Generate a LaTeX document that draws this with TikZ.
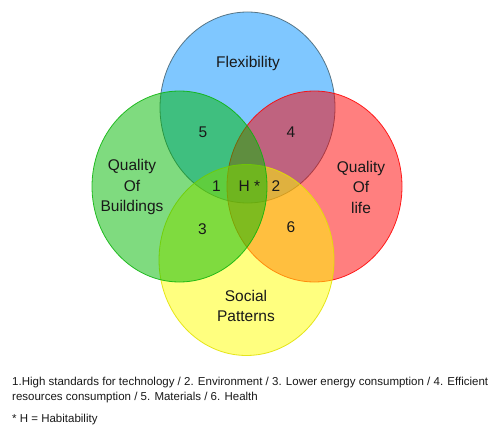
\documentclass[tikz,border=0pt]{standalone}
\usepackage{fontspec}
\setmainfont{Liberation Sans}
\begin{document}
\begin{tikzpicture}[x=1pt,y=-1pt,
  setbox/.style={fill opacity=0.5, draw opacity=0.85, line width=0.8pt},
  setlabel/.style={font=\fontsize{15.5}{20.5}\selectfont, align=center, text=black!90},
  note/.style={font=\fontsize{11.5}{15}\selectfont, anchor=base west, inner sep=0pt, text=black!90}]
\definecolor{flexblue}{RGB}{0,145,255}
\definecolor{flexedge}{RGB}{70,100,115}
\definecolor{lifered}{RGB}{255,0,0}
\definecolor{socyellow}{RGB}{255,255,0}
\definecolor{socedge}{RGB}{225,225,0}
\definecolor{bldgreen}{RGB}{0,185,0}
\definecolor{bldedge}{RGB}{10,180,10}
\useasboundingbox (0,0) rectangle (490,425);
\fill[white] (0,0) rectangle (490,425);
% four overlapping sets
\draw[setbox, fill=flexblue, draw=flexedge] (247.5,107.5) ellipse [x radius=87.5, y radius=95.5];
\draw[setbox, fill=lifered, draw=lifered] (314.5,186.5) ellipse [x radius=87.5, y radius=95.5];
\draw[setbox, fill=socyellow, draw=socedge] (246.5,260) ellipse [x radius=87.5, y radius=95.5];
\draw[setbox, fill=bldgreen, draw=bldedge] (179.5,186.5) ellipse [x radius=87.5, y radius=95.5];
% set names
\node[setlabel] (flex) at (248,63) {Flexibility};
\node[setlabel] (bld) at (132,187) {Quality\\Of\\Buildings};
\node[setlabel] (life) at (361,187) {Quality\\Of\\life};
\node[setlabel] (soc) at (246,306) {Social\\Patterns};
% region numbers
\node[setlabel] (r5) at (203,132) {5};
\node[setlabel] (r4) at (291,132) {4};
\node[setlabel] (r1) at (216.5,186.5) {1};
\node[setlabel] (rh) at (249.5,186.5) {H *};
\node[setlabel] (r2) at (276,186.5) {2};
\node[setlabel] (r3) at (202.5,229) {3};
\node[setlabel] (r6) at (291,227) {6};
% legend
\node[note] (n1) at (12,385.7) {1.High standards for technology / 2. Environment / 3. Lower energy consumption / 4. Efficient};
\node[note] (n2) at (12,400.7) {resources consumption / 5. Materials / 6. Health};
\node[note] (n3) at (12,422) {* H = Habitability};
\end{tikzpicture}
\end{document}
